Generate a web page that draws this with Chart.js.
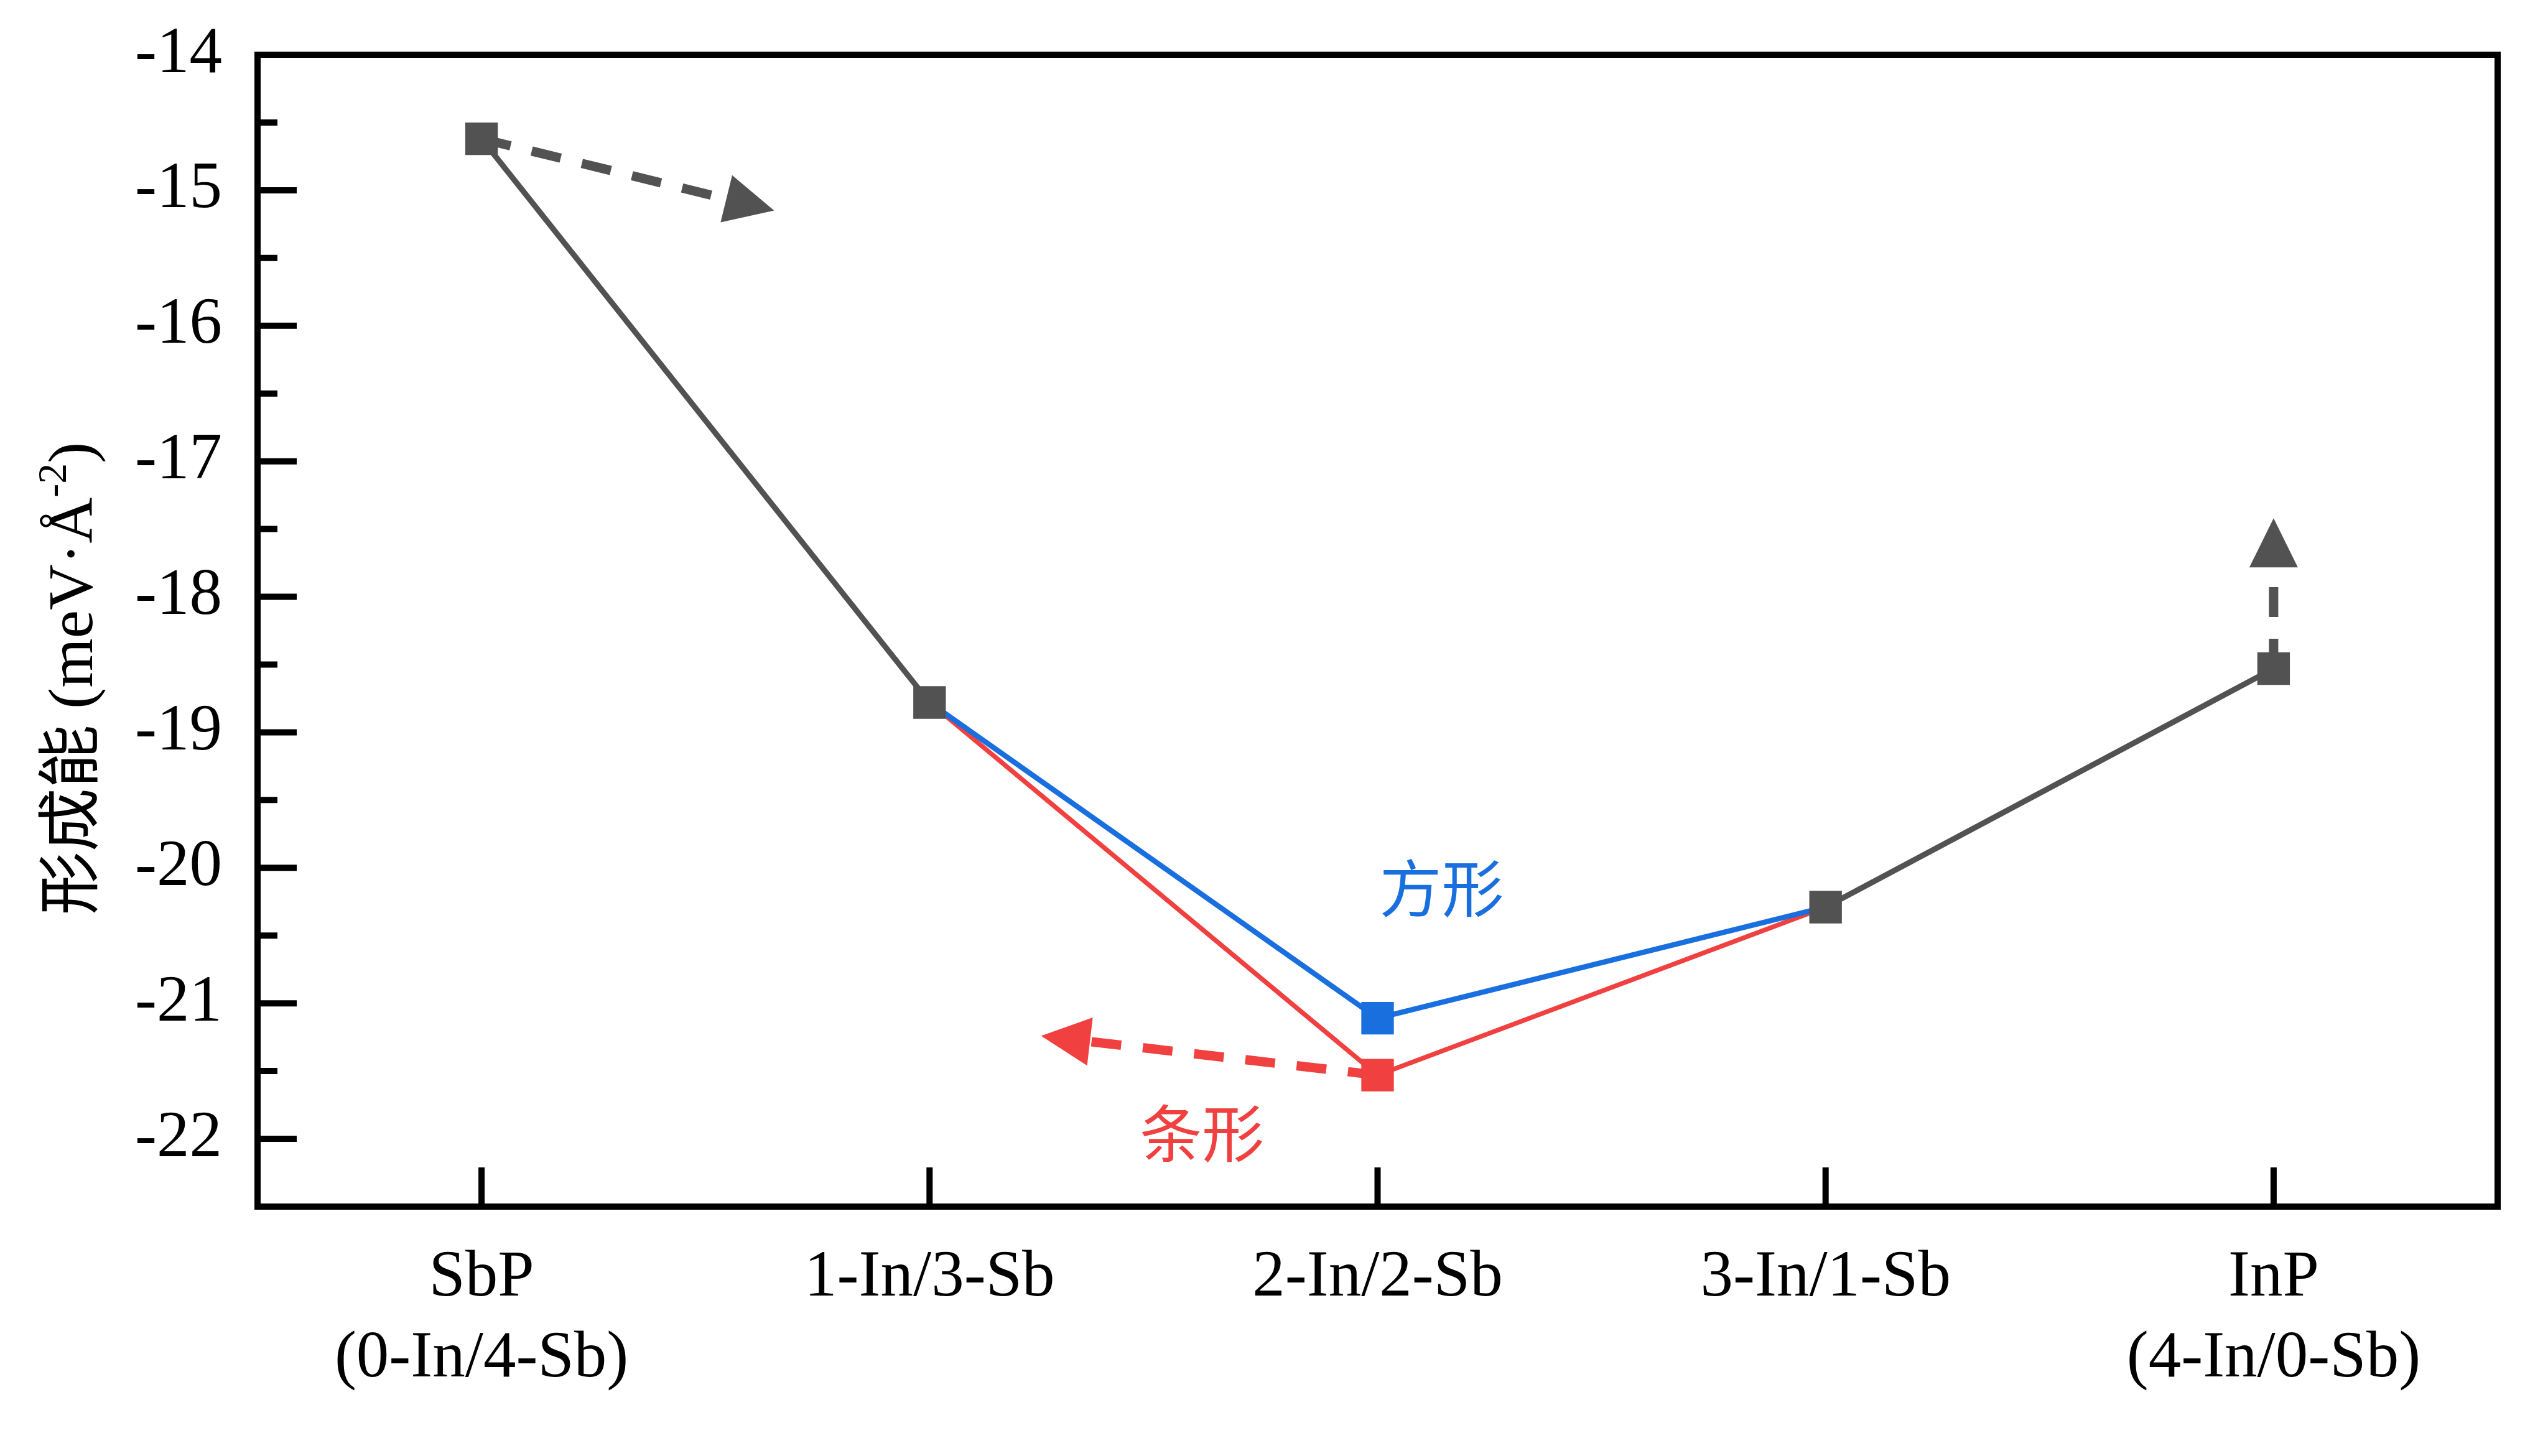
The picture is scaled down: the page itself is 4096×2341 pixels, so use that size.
<!DOCTYPE html>
<html>
<head>
<meta charset="utf-8">
<script src="https://cdn.jsdelivr.net/npm/chart.js@4.4.0/dist/chart.umd.min.js"></script>
<style>
  html, body { margin: 0; padding: 0; background: #fff; }
  #wrap { width: 4096px; height: 2341px; }
</style>
</head>
<body>
<div id="wrap"><canvas id="chart" width="4096" height="2341"></canvas></div>
<script>
// categories (multi-line labels as arrays)
const categories = [['SbP', '(0-In/4-Sb)'], '1-In/3-Sb', '2-In/2-Sb', '3-In/1-Sb', ['InP', '(4-In/0-Sb)']];

// formation energy, meV/Å^2
const mainValues   = [-14.62, -18.78, null,   -20.29, -18.53];
const squareValues = [null,   -18.78, -21.11, -20.29, null];
const stripeValues = [null,   -18.78, -21.53, -20.29, null];

const yTicks = [-22, -21, -20, -19, -18, -17, -16, -15, -14];
const yMinorTicks = [-21.5, -20.5, -19.5, -18.5, -17.5, -16.5, -15.5, -14.5];

// dashed arrows, [categoryIndex, value]
const arrowFrom = [[0, -14.62], [2, -21.53], [4, -18.53]];
const arrowTo   = [[0.653, -15.15], [1.249, -21.24], [4, -17.42]];

// text notes, [categoryIndex, value]
const noteTexts = ['方形', '条形'];
const notePos = [[2.143, -20.15], [1.608, -21.96]];

const GRAY = '#525252';
const BLUE = '#1A6FDF';
const RED = '#F04040';
const arrowColors = [GRAY, RED, GRAY];
const noteColors = [BLUE, RED];

const SERIF = '"Liberation Serif", "Times New Roman", "Noto Sans CJK SC", serif';

function drawArrow(ctx, x0, y0, x1, y1, color) {
  const dx = x1 - x0, dy = y1 - y0;
  const len = Math.hypot(dx, dy);
  const ux = dx / len, uy = dy / len;
  const headLen = 79, headW = 78;
  const bx = x1 - ux * headLen, by = y1 - uy * headLen;
  ctx.save();
  ctx.strokeStyle = color;
  ctx.lineWidth = 15;
  ctx.lineCap = 'butt';
  ctx.setLineDash([48, 35]);
  ctx.beginPath();
  ctx.moveTo(x0, y0);
  ctx.lineTo(bx, by);
  ctx.stroke();
  ctx.setLineDash([]);
  ctx.fillStyle = color;
  ctx.beginPath();
  ctx.moveTo(x1, y1);
  ctx.lineTo(bx - uy * headW / 2, by + ux * headW / 2);
  ctx.lineTo(bx + uy * headW / 2, by - ux * headW / 2);
  ctx.closePath();
  ctx.fill();
  ctx.restore();
}

const decor = {
  id: 'decor',
  beforeDatasetsDraw(chart) {
    const {ctx, scales: {x, y}} = chart;
    arrowFrom.forEach((p, i) => {
      const q = arrowTo[i];
      drawArrow(ctx, x.getPixelForValue(p[0]), y.getPixelForValue(p[1]),
        x.getPixelForValue(q[0]), y.getPixelForValue(q[1]), arrowColors[i]);
    });
  },
  afterDraw(chart) {
    const {ctx, chartArea: a, scales: {x, y}} = chart;
    ctx.save();
    // frame
    ctx.strokeStyle = '#000';
    ctx.lineWidth = 10;
    ctx.lineJoin = 'miter';
    ctx.lineCap = 'butt';
    ctx.strokeRect(a.left, a.top, a.right - a.left, a.bottom - a.top);
    // inward ticks
    ctx.beginPath();
    yTicks.forEach(v => {
      const py = y.getPixelForValue(v);
      ctx.moveTo(a.left, py); ctx.lineTo(a.left + 63, py);
    });
    yMinorTicks.forEach(v => {
      const py = y.getPixelForValue(v);
      ctx.moveTo(a.left, py); ctx.lineTo(a.left + 32, py);
    });
    categories.forEach((c, i) => {
      const px = x.getPixelForValue(i);
      ctx.moveTo(px, a.bottom); ctx.lineTo(px, a.bottom - 63);
    });
    ctx.stroke();

    // notes
    ctx.font = '100px "Noto Sans CJK SC", sans-serif';
    ctx.textAlign = 'center';
    ctx.textBaseline = 'middle';
    noteTexts.forEach((t, i) => {
      ctx.fillStyle = noteColors[i];
      ctx.fillText(t, x.getPixelForValue(notePos[i][0]), y.getPixelForValue(notePos[i][1]));
    });

    // y axis title with superscript
    const main = '形成能 (meV·Å', sup = '-2', tail = ')';
    const big = '102px ' + SERIF, small = '66px ' + SERIF;
    ctx.font = big;
    const w1 = ctx.measureText(main).width, w3 = ctx.measureText(tail).width;
    ctx.font = small;
    const w2 = ctx.measureText(sup).width;
    const total = w1 + w2 + w3;
    ctx.translate(112, 1091);
    ctx.rotate(-Math.PI / 2);
    ctx.fillStyle = '#000';
    ctx.textAlign = 'left';
    ctx.textBaseline = 'alphabetic';
    let cx = -total / 2;
    ctx.font = big;
    ctx.fillText(main, cx, 36);
    cx += w1;
    ctx.font = small;
    ctx.fillText(sup, cx, -6);
    cx += w2;
    ctx.font = big;
    ctx.fillText(tail, cx, 36);
    ctx.restore();
  }
};

new Chart(document.getElementById('chart'), {
  type: 'line',
  data: {
    labels: categories,
    datasets: [
      {
        data: mainValues,
        borderColor: GRAY, backgroundColor: GRAY,
        borderWidth: 9,
        pointStyle: 'rect', pointRadius: 37, pointHoverRadius: 37, pointBorderWidth: 0,
        spanGaps: false
      },
      {
        data: squareValues,
        borderColor: BLUE, backgroundColor: BLUE,
        borderWidth: 8.5,
        pointStyle: 'rect', pointRadius: [0, 0, 37, 0, 0], pointHoverRadius: 0, pointBorderWidth: 0
      },
      {
        data: stripeValues,
        borderColor: RED, backgroundColor: RED,
        borderWidth: 7.5,
        pointStyle: 'rect', pointRadius: [0, 0, 37, 0, 0], pointHoverRadius: 0, pointBorderWidth: 0
      }
    ]
  },
  options: {
    responsive: false,
    devicePixelRatio: 1,
    animation: false,
    events: [],
    layout: { padding: { top: 88, right: 81, left: 0, bottom: 0 } },
    plugins: { legend: { display: false }, tooltip: { enabled: false } },
    scales: {
      x: {
        type: 'category',
        offset: true,
        grid: { display: false, drawTicks: false },
        border: { display: false },
        ticks: {
          color: '#000',
          font: { family: SERIF, size: 105, lineHeight: 1.24 },
          padding: 50,
          maxRotation: 0,
          autoSkip: false
        },
        afterFit(scale) { scale.height = 401; }
      },
      y: {
        type: 'linear',
        min: -22.5,
        max: -14,
        grid: { display: false, drawTicks: false },
        border: { display: false },
        afterBuildTicks(scale) { scale.ticks = yTicks.map(v => ({ value: v })); },
        ticks: {
          color: '#000',
          font: { family: SERIF, size: 105 },
          padding: 57,
          callback: v => String(v)
        },
        afterFit(scale) {
          scale.width = 414;
          scale.paddingTop = 0;
          scale.paddingBottom = 0;
        }
      }
    }
  },
  plugins: [decor]
});
</script>
</body>
</html>
